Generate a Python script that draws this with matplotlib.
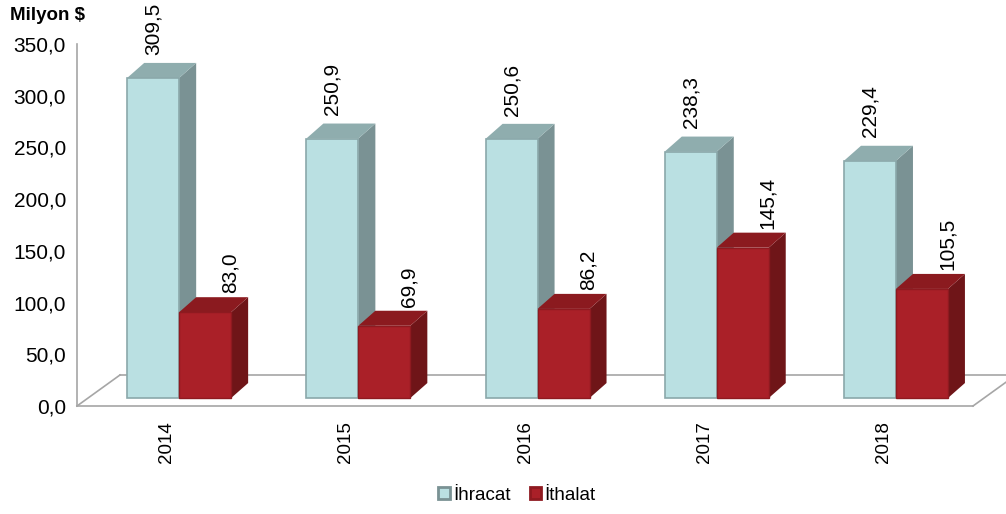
import matplotlib
matplotlib.use("Agg")
import matplotlib.pyplot as plt
from matplotlib.patches import Polygon, Patch

plt.rcParams['font.family'] = ['Liberation Sans', 'DejaVu Sans']

# data
years = ['2014', '2015', '2016', '2017', '2018']
ihracat = [309.5, 250.9, 250.6, 238.3, 229.4]
ithalat = [83.0, 69.9, 86.2, 145.4, 105.5]
series_names = ['İhracat', 'İthalat']
y_ticks = [0, 50, 100, 150, 200, 250, 300, 350]

# colours (front, top, side, edge)
cyan = ('#BAE0E2', '#8FADAE', '#7A9294', '#8AA8AA')
red = ('#AA2028', '#8B1A1F', '#6F1518', '#8E1A20')

W, H = 1006, 514
fig = plt.figure(figsize=(W / 100, H / 100), dpi=100)
ax = fig.add_axes([77 / W, (H - 406) / H, 896 / W, 362 / H])
ax.set_xlim(-0.5, 4.5)
ax.set_ylim(0, 350)

# 3d look
base = 7.7            # front faces sit a little above the floor
dx, dy = 0.095, 14.5  # bar depth
fdx, fdy = 0.24, 30   # floor depth
w = 0.29
shift = 0.07

# floor
floor_col = '#A6A6A6'
ax.plot([-0.5, 4.5], [0, 0], color=floor_col, lw=1.2, clip_on=False, zorder=1)
ax.plot([-0.5 + fdx, 4.5 + fdx], [fdy, fdy], color=floor_col, lw=1.2, clip_on=False, zorder=1)
ax.plot([-0.5, -0.5 + fdx], [0, fdy], color=floor_col, lw=1.2, clip_on=False, zorder=1)
ax.plot([4.5, 4.5 + fdx], [0, fdy], color=floor_col, lw=1.2, clip_on=False, zorder=1)

xs = list(range(len(years)))


def draw_3d(bars, cols, z):
    for b in bars:
        x0 = b.get_x()
        x1 = x0 + b.get_width()
        y0 = b.get_y()
        y1 = y0 + b.get_height()
        side = Polygon([(x1, y0), (x1 + dx, y0 + dy), (x1 + dx, y1 + dy), (x1, y1)],
                       closed=True, facecolor=cols[2], edgecolor='none', zorder=z - 0.5)
        top = Polygon([(x0, y1), (x0 + dx, y1 + dy), (x1 + dx, y1 + dy), (x1, y1)],
                      closed=True, facecolor=cols[1], edgecolor='none', zorder=z - 0.5)
        ax.add_patch(side)
        ax.add_patch(top)


b1 = ax.bar([x + shift - w / 2 for x in xs], ihracat, width=w, bottom=base,
            color=cyan[0], edgecolor=cyan[3], linewidth=1.2, zorder=3)
draw_3d(b1, cyan, 3)
b2 = ax.bar([x + shift + w / 2 for x in xs], ithalat, width=w, bottom=base,
            color=red[0], edgecolor=red[3], linewidth=1.0, zorder=5)
draw_3d(b2, red, 5)

# value labels
for b, v in zip(b1, ihracat):
    ax.text(b.get_x() + b.get_width() / 2, base + v + dy + 8, f'{v:.1f}'.replace('.', ','),
            rotation=90, ha='center', va='bottom', fontsize=15, zorder=10, clip_on=False)
for b, v in zip(b2, ithalat):
    ax.text(b.get_x() + b.get_width() / 2 + 0.14, base + v + dy + 4, f'{v:.1f}'.replace('.', ','),
            rotation=90, ha='center', va='bottom', fontsize=15, zorder=10, clip_on=False)

# axes
for s in ['top', 'right', 'bottom']:
    ax.spines[s].set_visible(False)
ax.spines['left'].set_color(floor_col)
ax.spines['left'].set_linewidth(1.2)
ax.set_yticks(y_ticks)
ax.set_yticklabels([f'{t:.1f}'.replace('.', ',') for t in y_ticks], fontsize=15)
ax.tick_params(axis='y', length=0, pad=8)
ax.set_xticks(xs)
ax.set_xticklabels(years, rotation=90, fontsize=13.5)
ax.tick_params(axis='x', length=0, pad=11)

fig.text(10 / W, 1 - 15 / H, 'Milyon $', fontsize=13.5, fontweight='bold', va='center', ha='left')

handles = [Patch(facecolor=cyan[0], edgecolor=cyan[2], linewidth=2),
           Patch(facecolor=red[0], edgecolor=red[3], linewidth=2)]
fig.legend(handles, series_names, loc='center', bbox_to_anchor=(517 / W, 1 - 495 / H), ncol=2,
           frameon=False, fontsize=13.5, handlelength=0.6, handleheight=0.6,
           handletextpad=0.2, columnspacing=1.0)

fig.savefig('out.png', dpi=100)
